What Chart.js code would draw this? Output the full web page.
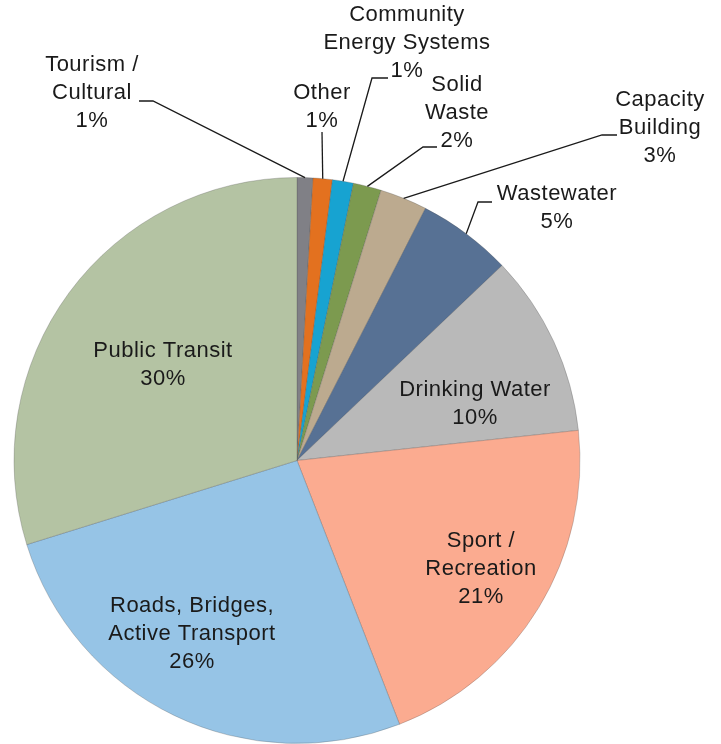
<!DOCTYPE html>
<html>
<head>
<meta charset="utf-8">
<script src="https://cdn.jsdelivr.net/npm/chart.js@4"></script>
<style>
  html, body { margin: 0; padding: 0; background: #fff; }
  #wrap { width: 721px; height: 744px; }
</style>
</head>
<body>
<div id="wrap"><canvas id="pieChart" width="721" height="744"></canvas></div>
<script>
// data, clockwise from 12 o'clock
var categories = ["Tourism / Cultural", "Other", "Community Energy Systems", "Solid Waste",
    "Capacity Building", "Wastewater", "Drinking Water", "Sport / Recreation",
    "Roads, Bridges, Active Transport", "Public Transit"];
var shares = [0.9, 1.1, 1.2, 1.6, 2.7, 5.4, 10.4, 20.8, 26.1, 29.8];
var pctLabels = ["1%", "1%", "1%", "2%", "3%", "5%", "10%", "21%", "26%", "30%"];
var labelLines = [
    ["Tourism /", "Cultural"], ["Other"], ["Community", "Energy Systems"], ["Solid", "Waste"],
    ["Capacity", "Building"], ["Wastewater"], ["Drinking Water"], ["Sport /", "Recreation"],
    ["Roads, Bridges,", "Active Transport"], ["Public Transit"]
];
var colors = ["#808086", "#e3711f", "#17a3d1", "#7c9a4f", "#bcaa8f", "#577194",
    "#b9b9b9", "#fbab90", "#96c4e6", "#b4c3a3"];

// where each label block sits (centre x, first line y) and the bend of its leader line
var labelPos = [
    { x: 92, y: 65, leader: [[153, 101], [139, 101]] },
    { x: 322, y: 93, leader: [[322, 132]] },
    { x: 407, y: 15, leader: [[372, 78], [388, 78]] },
    { x: 457, y: 85, leader: [[423, 147], [437, 147]] },
    { x: 660, y: 100, leader: [[602, 135], [617, 135]] },
    { x: 557, y: 194, leader: [[478, 202], [492, 202]] },
    { x: 475, y: 390 },
    { x: 481, y: 541 },
    { x: 192, y: 606 },
    { x: 163, y: 351 }
];
var lineGap = 28;

var sliceLabels = {
    id: "sliceLabels",
    afterDatasetsDraw: function (chart) {
        var ctx = chart.ctx;
        var arcs = chart.getDatasetMeta(0).data;
        ctx.save();
        ctx.font = "22px 'Liberation Sans', Arial, sans-serif";
        ctx.letterSpacing = "0.5px";
        ctx.fillStyle = "#1a1a1a";
        ctx.textAlign = "center";
        ctx.textBaseline = "middle";
        arcs.forEach(function (arc, i) {
            var p = labelPos[i];
            var lines = labelLines[i].concat([pctLabels[i]]);
            lines.forEach(function (t, k) {
                ctx.fillText(t, p.x, p.y + k * lineGap);
            });
            if (p.leader) {
                var a = arc.getProps(["x", "y", "startAngle", "endAngle", "outerRadius"], true);
                var mid = (a.startAngle + a.endAngle) / 2;
                ctx.beginPath();
                ctx.strokeStyle = "#1a1a1a";
                ctx.lineWidth = 1.3;
                ctx.moveTo(a.x + Math.cos(mid) * a.outerRadius, a.y + Math.sin(mid) * a.outerRadius);
                p.leader.forEach(function (pt) { ctx.lineTo(pt[0], pt[1]); });
                ctx.stroke();
            }
        });
        ctx.restore();
    }
};

var pieChart = new Chart(document.getElementById("pieChart").getContext("2d"), {
    type: "pie",
    data: {
        labels: categories,
        datasets: [{
            data: shares,
            backgroundColor: colors,
            borderColor: "rgba(80, 80, 80, 0.28)",
            borderWidth: 1
        }]
    },
    options: {
        responsive: false,
        animation: false,
        layout: { padding: { left: 13, top: 177, right: 140, bottom: 0 } },
        plugins: {
            legend: { display: false },
            tooltip: { enabled: false }
        }
    },
    plugins: [sliceLabels]
});
</script>
</body>
</html>
